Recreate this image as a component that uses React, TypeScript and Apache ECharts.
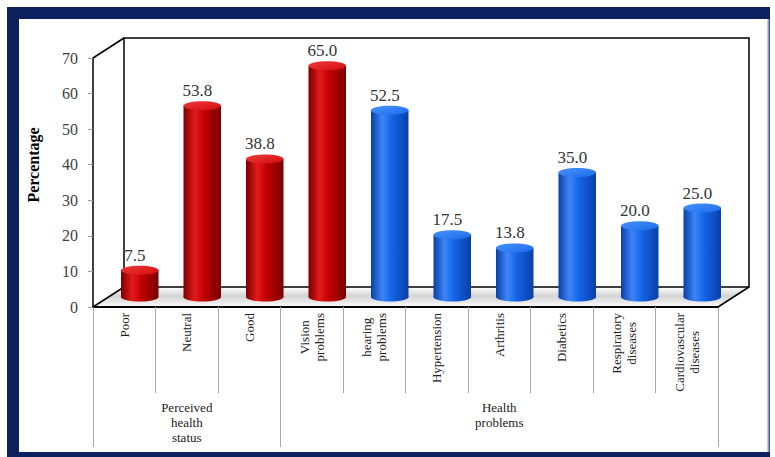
import React, { useEffect, useRef } from "react";
import * as echarts from "echarts";

const categories = [
  "Poor",
  "Neutral",
  "Good",
  "Vision\nproblems",
  "hearing\nproblems",
  "Hypertension",
  "Arthritis",
  "Diabetics",
  "Respiratory\ndiseases",
  "Cardiovascular\ndiseases",
];
const values = [7.5, 53.8, 38.8, 65.0, 52.5, 17.5, 13.8, 35.0, 20.0, 25.0];
const barPaletteIndex = [0, 0, 0, 0, 1, 1, 1, 1, 1, 1];
const groupNames = ["Perceived\nhealth\nstatus", "Health\nproblems"];
const groupStartIdx = [0, 3];
const groupLabelIdx = [1, 6];
const yMin = 0;
const yMax = 70;
const yInterval = 10;
const yTitle = "Percentage";

const SERIF = "Liberation Serif";
const FRONT = { left: 93, top: 58, width: 625, height: 249 };
const DX = 31;
const DY = -20;

const palettes = [
  { dark: "#7a0000", mid: "#c00000", light: "#e41a1a", top: "#d40d0d", topLight: "#ee3a3a" },
  { dark: "#0a3fa8", mid: "#1464e6", light: "#3d86f7", top: "#1a6cee", topLight: "#4a92fa" },
];

export default function App() {
  const ref = useRef<HTMLDivElement>(null);
  useEffect(() => {
    document.body.style.margin = "0";
    const chart = echarts.init(ref.current!, null, { renderer: "svg" });
    const bodyGrad = (p: any) =>
      new echarts.graphic.LinearGradient(0, 0, 1, 0, [
        { offset: 0, color: p.dark },
        { offset: 0.3, color: p.light },
        { offset: 0.55, color: p.mid },
        { offset: 1, color: p.dark },
      ]);
    const topGrad = (p: any) =>
      new echarts.graphic.LinearGradient(0, 0, 1, 1, [
        { offset: 0, color: p.topLight },
        { offset: 1, color: p.top },
      ]);
    const barGrid = { left: FRONT.left + DX / 2, top: FRONT.top - 10, width: FRONT.width, height: FRONT.height };
    const backGrid = { left: FRONT.left + DX, top: FRONT.top + DY, width: FRONT.width, height: FRONT.height };
    const bottomY = FRONT.top + FRONT.height;
    const rightX = FRONT.left + FRONT.width;
    const labelRich = {
      c: { align: "center", fontFamily: SERIF, fontSize: 13, lineHeight: 15, color: "#222" },
    };

    const option: any = {
      animation: false,
      backgroundColor: "#ffffff",
      textStyle: { fontFamily: SERIF },
      grid: [
        { ...FRONT, containLabel: false },
        { ...barGrid, containLabel: false },
        { ...backGrid, containLabel: false, show: true, borderColor: "#000", borderWidth: 1.5, backgroundColor: "transparent" },
      ],
      xAxis: [
        {
          type: "category",
          gridIndex: 0,
          data: categories,
          position: "bottom",
          axisLine: { show: true, lineStyle: { color: "#000", width: 2 } },
          axisTick: { show: true, interval: 0, length: 86, lineStyle: { color: "#a8a8a8", width: 1 } },
          axisLabel: {
            interval: 0,
            rotate: 90,
            margin: 6,
            fontFamily: SERIF,
            fontSize: 13,
            lineHeight: 15,
            color: "#222",
            formatter: (v: string) =>
              v
                .split("\n")
                .map((s) => `{c|${s}}`)
                .join("\n"),
            rich: labelRich,
          },
        },
        {
          type: "category",
          gridIndex: 0,
          data: categories,
          position: "bottom",
          axisLine: { show: false },
          axisTick: {
            show: true,
            interval: (i: number) => groupStartIdx.includes(i),
            length: 140,
            lineStyle: { color: "#a8a8a8", width: 1 },
          },
          axisLabel: {
            interval: (i: number) => groupLabelIdx.includes(i),
            formatter: (_v: string, i: number) => {
              const k = groupLabelIdx.indexOf(i);
              return k >= 0 ? groupNames[k] : "";
            },
            margin: 93,
            fontFamily: SERIF,
            fontSize: 13,
            lineHeight: 15,
            color: "#222",
          },
        },
        { type: "category", gridIndex: 1, data: categories, show: false },
        { type: "category", gridIndex: 2, data: categories, show: false },
      ],
      yAxis: [
        {
          type: "value",
          gridIndex: 0,
          min: yMin,
          max: yMax,
          interval: yInterval,
          axisLine: { show: true, lineStyle: { color: "#000", width: 1.5 } },
          axisTick: { show: true, length: 5, lineStyle: { color: "#999" } },
          splitLine: { show: false },
          axisLabel: { fontFamily: SERIF, fontSize: 16, color: "#404040", margin: 15 },
        },
        { type: "value", gridIndex: 1, min: yMin, max: yMax, interval: yInterval, show: false, splitLine: { show: false } },
        { type: "value", gridIndex: 2, min: yMin, max: yMax, interval: yInterval, show: false, splitLine: { show: false } },
      ],
      graphic: [
        { type: "rect", z: -20, shape: { x: 7, y: 7, width: 763, height: 460 }, style: { fill: "#0b2160" } },
        { type: "rect", z: -19, shape: { x: 19, y: 19, width: 749, height: 433 }, style: { fill: "#ffffff" } },
        { type: "line", z: -19, shape: { x1: 768.5, y1: 19, x2: 768.5, y2: 452 }, style: { stroke: "#8a9bbb", lineWidth: 2 } },
        {
          type: "polygon",
          z: -5,
          shape: {
            points: [
              [FRONT.left, bottomY],
              [FRONT.left + DX, bottomY + DY],
              [rightX + DX, bottomY + DY],
              [rightX, bottomY],
            ],
          },
          style: {
            fill: new echarts.graphic.LinearGradient(0, 0, 0, 1, [
              { offset: 0, color: "#ffffff" },
              { offset: 0.45, color: "#d4d4d4" },
              { offset: 0.75, color: "#e8e8e8" },
              { offset: 1, color: "#ffffff" },
            ]),
          },
        },
        { type: "line", z: 1, shape: { x1: FRONT.left, y1: FRONT.top, x2: FRONT.left + DX, y2: FRONT.top + DY }, style: { stroke: "#000", lineWidth: 1.5 } },
        { type: "line", z: 1, shape: { x1: FRONT.left, y1: bottomY, x2: FRONT.left + DX, y2: bottomY + DY }, style: { stroke: "#000", lineWidth: 1.5 } },
        { type: "line", z: 1, shape: { x1: rightX, y1: bottomY, x2: rightX + DX, y2: bottomY + DY }, style: { stroke: "#000", lineWidth: 1.5 } },
        {
          type: "text",
          z: 5,
          x: 33,
          y: 165,
          rotation: Math.PI / 2,
          style: {
            text: yTitle,
            fontFamily: SERIF,
            fontSize: 16,
            fontWeight: "bold",
            fill: "#000",
            textAlign: "center",
            textVerticalAlign: "middle",
          },
        },
      ],
      series: [
        {
          type: "custom",
          xAxisIndex: 2,
          yAxisIndex: 1,
          z: 3,
          data: values.map((v, i) => [i, v]),
          renderItem: (params: any, api: any) => {
            const idx = api.value(0);
            const v = api.value(1);
            const top = api.coord([idx, v]);
            const base = api.coord([idx, 0]);
            const bw = api.size([1, 0])[0] * 0.6;
            const rx = bw / 2;
            const ry = 4.5;
            const cx = top[0];
            const p = palettes[barPaletteIndex[params.dataIndex]];
            return {
              type: "group",
              children: [
                { type: "ellipse", shape: { cx, cy: base[1], rx, ry }, style: { fill: bodyGrad(p) } },
                { type: "rect", shape: { x: cx - rx, y: top[1], width: bw, height: base[1] - top[1] }, style: { fill: bodyGrad(p) } },
                { type: "ellipse", shape: { cx, cy: top[1], rx, ry }, style: { fill: topGrad(p) } },
                {
                  type: "text",
                  style: {
                    text: v.toFixed(1),
                    x: cx - 5,
                    y: top[1] - ry - 2,
                    textAlign: "center",
                    textVerticalAlign: "bottom",
                    fontFamily: SERIF,
                    fontSize: 17,
                    fill: "#333",
                  },
                },
              ],
            };
          },
        },
      ],
    };
    chart.setOption(option);
    return () => chart.dispose();
  }, []);
  return <div ref={ref} style={{ width: 775, height: 457 }} />;
}
